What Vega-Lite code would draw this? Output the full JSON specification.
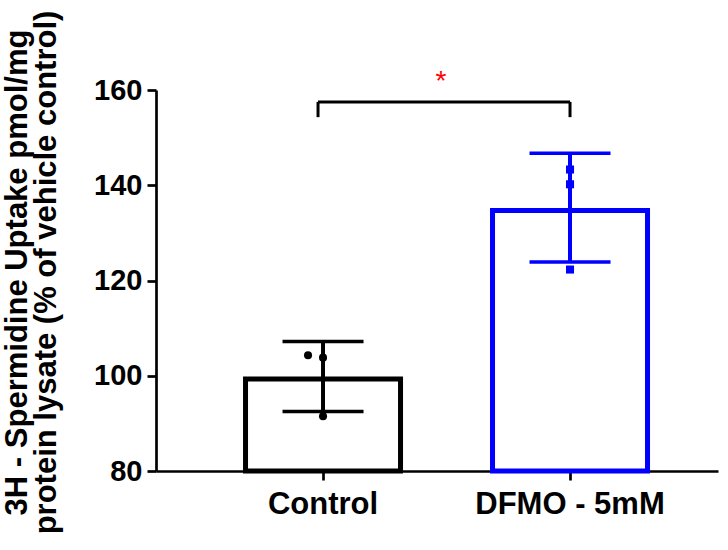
{
  "$schema": "https://vega.github.io/schema/vega-lite/v6.json",
  "autosize": "none",
  "width": 562,
  "height": 381,
  "padding": {"left": 156, "top": 90, "right": 10, "bottom": 79},
  "background": "white",
  "config": {"font": "Liberation Sans", "view": {"stroke": null}, "axis": {"grid": false, "domainColor": "black", "tickColor": "black", "labelColor": "black", "titleColor": "black"}},
  "datasets": {
    "summary": [
      {"group": "Control", "mean": 99.3, "lo": 92.5, "hi": 107.2},
      {"group": "DFMO - 5mM", "mean": 134.7, "lo": 123.9, "hi": 146.7}
    ],
    "points": [
      {"group": "Control", "value": 104.3, "side": "left"},
      {"group": "Control", "value": 103.8, "side": "center"},
      {"group": "Control", "value": 91.5, "side": "center"},
      {"group": "DFMO - 5mM", "value": 143.3, "side": "center"},
      {"group": "DFMO - 5mM", "value": 140.2, "side": "center"},
      {"group": "DFMO - 5mM", "value": 122.3, "side": "center"}
    ],
    "sig": [
      {"from": "Control", "to": "DFMO - 5mM", "bar": 157.5, "foot": 154.3, "star": 160.1, "label": "*"}
    ]
  },
  "encoding": {
    "x": {
      "field": "group", "type": "nominal",
      "scale": {"domain": ["Control", "DFMO - 5mM"], "paddingInner": 0, "paddingOuter": 0.1377, "align": 0.64},
      "axis": {"title": null, "labelAngle": 0, "labelFontSize": 31, "labelFontWeight": "bold", "labelPadding": 9, "labelLimit": 0, "tickSize": 9, "tickWidth": 2.7, "domainWidth": 2.7, "labelColor": "black"}
    }
  },
  "layer": [
    {
      "data": {"name": "summary"},
      "mark": {"type": "bar", "width": 155, "fill": "white", "strokeWidth": 5},
      "encoding": {
        "y": {
          "field": "mean", "type": "quantitative",
          "scale": {"domain": [80, 160], "zero": false, "nice": false},
          "axis": {
            "values": [80, 100, 120, 140, 160],
            "title": ["3H - Spermidine Uptake pmol/mg", "protein lysate (% of  vehicle control)"],
            "titleFontSize": 31, "titleFontWeight": "bold", "titleLineHeight": 29,
            "titleAngle": -90, "titleAlign": "center", "titleBaseline": "top",
            "titleX": -154, "titleY": 182, "titleLimit": 0,
            "labelFontSize": 29, "labelFontWeight": "bold", "labelPadding": 5,
            "tickSize": 9, "tickWidth": 2.7, "domainWidth": 2.7
          }
        },
        "y2": {"datum": 80},
        "stroke": {"field": "group", "type": "nominal", "scale": {"domain": ["Control", "DFMO - 5mM"], "range": ["black", "#0000ff"]}, "legend": null}
      }
    },
    {
      "data": {"name": "summary"},
      "mark": {"type": "rule", "strokeWidth": 4, "opacity": 1},
      "encoding": {
        "y": {"field": "lo", "type": "quantitative"},
        "y2": {"field": "hi"},
        "color": {"field": "group", "type": "nominal", "scale": {"domain": ["Control", "DFMO - 5mM"], "range": ["black", "#0000ff"]}, "legend": null}
      }
    },
    {
      "data": {"name": "summary"},
      "mark": {"type": "tick", "size": 81, "thickness": 3.5, "orient": "horizontal", "opacity": 1},
      "encoding": {
        "y": {"field": "lo", "type": "quantitative"},
        "color": {"field": "group", "type": "nominal", "scale": {"domain": ["Control", "DFMO - 5mM"], "range": ["black", "#0000ff"]}, "legend": null}
      }
    },
    {
      "data": {"name": "summary"},
      "mark": {"type": "tick", "size": 81, "thickness": 3.5, "orient": "horizontal", "opacity": 1},
      "encoding": {
        "y": {"field": "hi", "type": "quantitative"},
        "color": {"field": "group", "type": "nominal", "scale": {"domain": ["Control", "DFMO - 5mM"], "range": ["black", "#0000ff"]}, "legend": null}
      }
    },
    {
      "data": {"name": "points"},
      "transform": [{"filter": "datum.side == 'center'"}],
      "mark": {"type": "point", "filled": true, "opacity": 1, "size": 65},
      "encoding": {
        "y": {"field": "value", "type": "quantitative"},
        "color": {"field": "group", "type": "nominal", "scale": {"domain": ["Control", "DFMO - 5mM"], "range": ["black", "#0000ff"]}, "legend": null},
        "shape": {"field": "group", "type": "nominal", "scale": {"domain": ["Control", "DFMO - 5mM"], "range": ["circle", "square"]}, "legend": null}
      }
    },
    {
      "data": {"name": "points"},
      "transform": [{"filter": "datum.side == 'left'"}],
      "mark": {"type": "point", "filled": true, "opacity": 1, "size": 65, "xOffset": -15},
      "encoding": {
        "y": {"field": "value", "type": "quantitative"},
        "color": {"field": "group", "type": "nominal", "scale": {"domain": ["Control", "DFMO - 5mM"], "range": ["black", "#0000ff"]}, "legend": null},
        "shape": {"field": "group", "type": "nominal", "scale": {"domain": ["Control", "DFMO - 5mM"], "range": ["circle", "square"]}, "legend": null}
      }
    },
    {
      "data": {"name": "sig"},
      "mark": {"type": "rule", "strokeWidth": 3, "color": "black", "xOffset": -5, "x2Offset": 0},
      "encoding": {
        "x": {"field": "from", "type": "nominal"},
        "x2": {"field": "to"},
        "y": {"field": "bar", "type": "quantitative"}
      }
    },
    {
      "data": {"name": "sig"},
      "mark": {"type": "rule", "strokeWidth": 3, "color": "black", "xOffset": -5},
      "encoding": {
        "x": {"field": "from", "type": "nominal"},
        "y": {"field": "foot", "type": "quantitative"},
        "y2": {"field": "bar"}
      }
    },
    {
      "data": {"name": "sig"},
      "mark": {"type": "rule", "strokeWidth": 3, "color": "black"},
      "encoding": {
        "x": {"field": "to", "type": "nominal"},
        "y": {"field": "foot", "type": "quantitative"},
        "y2": {"field": "bar"}
      }
    },
    {
      "data": {"name": "sig"},
      "mark": {"type": "text", "color": "#ff0000", "fontSize": 28, "baseline": "alphabetic", "align": "center", "xOffset": 118},
      "encoding": {
        "x": {"field": "from", "type": "nominal"},
        "y": {"field": "star", "type": "quantitative"},
        "text": {"field": "label"}
      }
    }
  ]
}
